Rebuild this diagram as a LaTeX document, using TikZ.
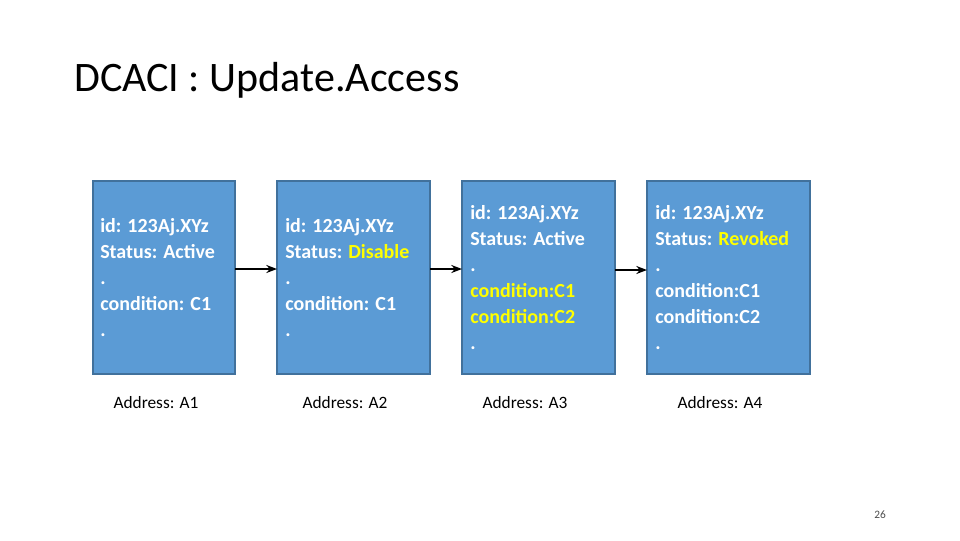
\documentclass[tikz,border=0pt]{standalone}
\usepackage{fontspec}
\setmainfont{Carlito}
\usetikzlibrary{arrows.meta}
\definecolor{boxblue}{HTML}{5B9BD5}
\definecolor{boxline}{HTML}{41719C}
\definecolor{hilite}{HTML}{FFFF00}
\tikzset{
  record/.style={draw=boxline, fill=boxblue, line width=1pt, text=white, inner sep=0pt, outer sep=0pt},
  rectext/.style={text=white, align=left, anchor=west, inner sep=0pt, font=\bfseries\fontsize{15}{19.5}\selectfont},
  addr/.style={font=\fontsize{13}{15}\selectfont},
  link/.style={-{Stealth[length=8pt,width=6pt]}, line width=1.5pt}
}
\begin{document}
\begin{tikzpicture}[x=0.75pt,y=-0.75pt]
  \useasboundingbox (0,0) rectangle (960,540);
  \node[anchor=west, inner sep=0pt, font=\fontsize{31.5}{34}\selectfont] (title) at (74,80) {DCACI : Update.Access};

  % records
  \draw[record] (93,181) rectangle (235,374);
  \draw[record] (277,181) rectangle (430,374);
  \draw[record] (462,181) rectangle (615,374);
  \draw[record] (647,181) rectangle (810,374);
  \coordinate (R1) at (235,269); \coordinate (L2) at (277,269);
  \coordinate (R2) at (430,269); \coordinate (L3) at (462,269);
  \coordinate (R3) at (615,270); \coordinate (L4) at (647,270);

  \node[rectext] (t1) at (100,278) {id: 123Aj.XYz\\Status: Active\\.\\condition: C1\\.};
  \node[rectext] (t2) at (285,278) {id: 123Aj.XYz\\Status: \textcolor{hilite}{Disable}\\.\\condition: C1\\.};
  \node[rectext] (t3) at (470,278) {id: 123Aj.XYz\\Status: Active\\.\\\textcolor{hilite}{condition:C1}\\\textcolor{hilite}{condition:C2}\\.};
  \node[rectext] (t4) at (655,278) {id: 123Aj.XYz\\Status: \textcolor{hilite}{Revoked}\\.\\condition:C1\\condition:C2\\.};

  \draw[link] (R1) -- (L2);
  \draw[link] (R2) -- (L3);
  \draw[link] (R3) -- (L4);

  \node[addr] (a1) at (156,403) {Address: A1};
  \node[addr] (a2) at (345,403) {Address: A2};
  \node[addr] (a3) at (525,403) {Address: A3};
  \node[addr] (a4) at (720,403) {Address: A4};
  \node[font=\fontsize{8.5}{10}\selectfont, text=black!70] (page) at (880,515) {26};
\end{tikzpicture}
\end{document}
